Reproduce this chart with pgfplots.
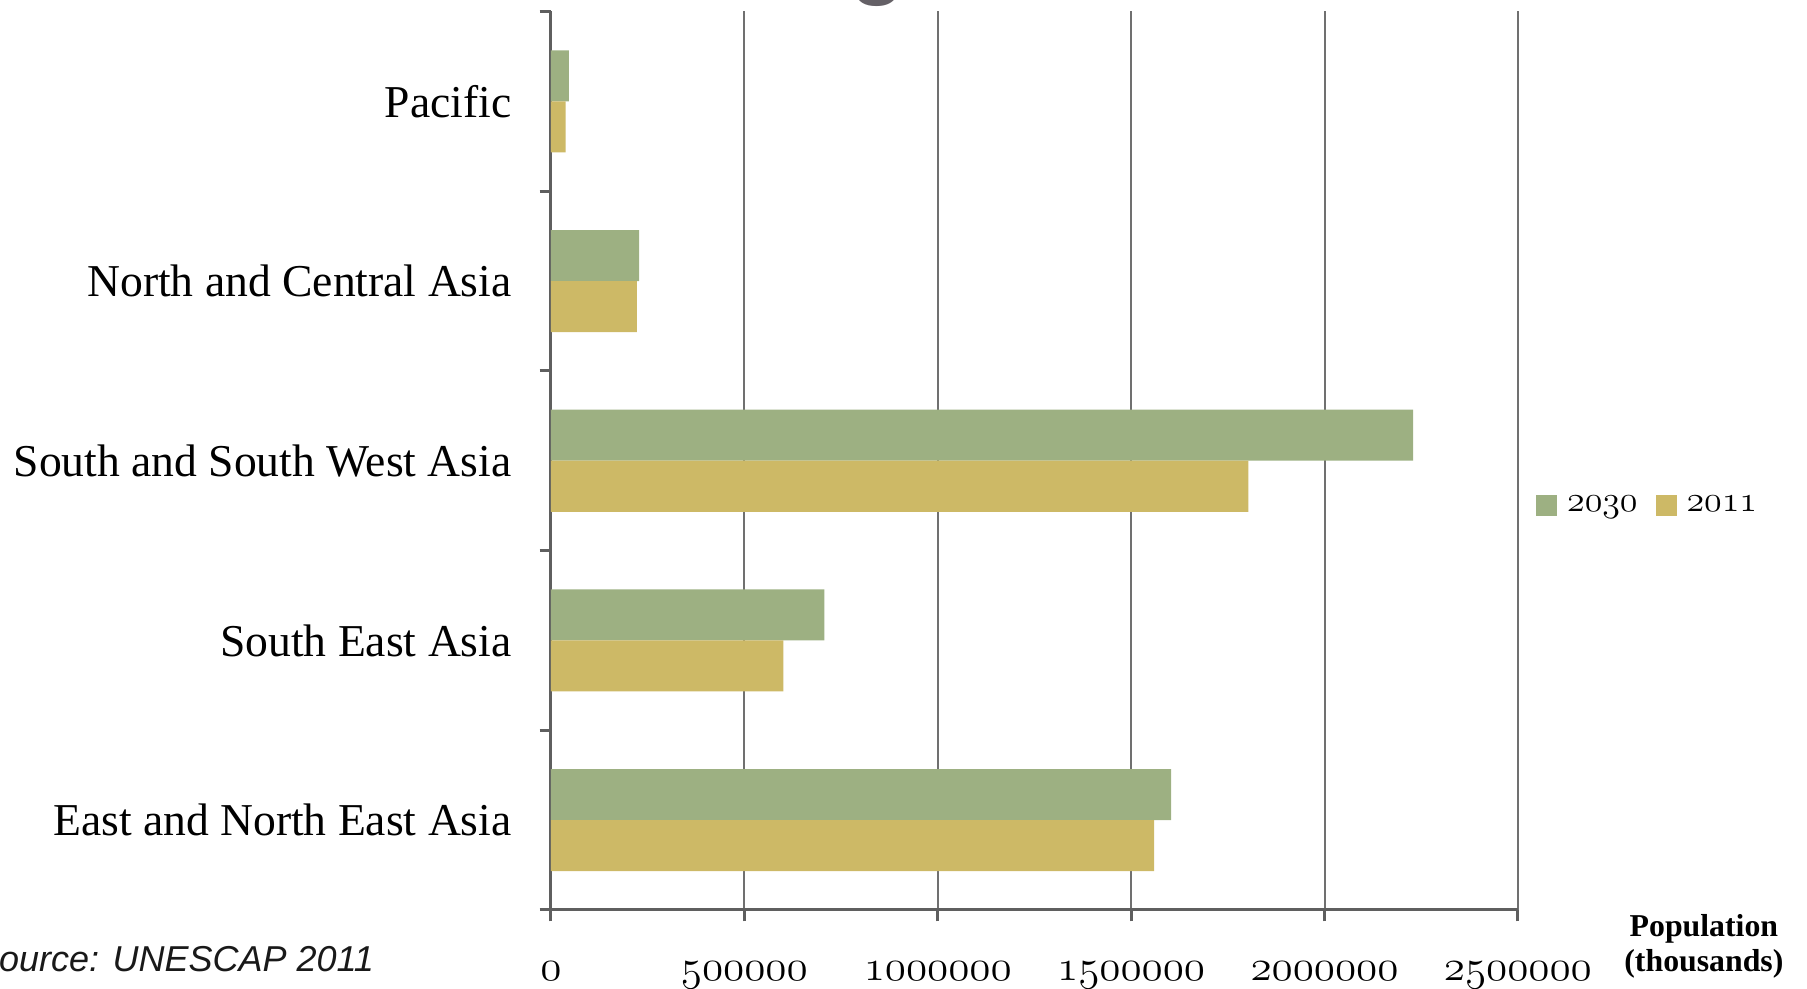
\documentclass[border=0pt]{standalone}
\usepackage{pgfplots}
\pgfplotsset{compat=1.18}
\usepackage{fontspec}
\setmainfont{Liberation Serif}
\newfontfamily\srcfont{Liberation Sans}
\newcommand\osf[1]{{\fontencoding{OML}\fontfamily{cmm}\fontseries{m}\fontshape{it}\selectfont #1}}
\definecolor{cgreen}{RGB}{157,176,130}
\definecolor{cgold}{RGB}{205,185,102}
\definecolor{gridgray}{RGB}{112,112,112}
\definecolor{axgray}{RGB}{95,95,95}
\definecolor{blobgray}{RGB}{100,96,102}
\begin{document}
\begin{tikzpicture}
\useasboundingbox (-183.67pt,-26.33pt) rectangle (418.67pt,303.33pt);
\clip (-183.67pt,-26.33pt) rectangle (418.67pt,303.33pt);
\begin{axis}[
  at={(0,0)}, anchor=south west,
  scale only axis, width=322.33pt, height=299.5pt,
  xbar, bar width=0.284,
  xmin=0, xmax=2500000, ymin=-0.5, ymax=4.5,
  axis lines=left,
  axis line style={draw=axgray, line width=1pt, -},
  xtick={0,500000,1000000,1500000,2000000,2500000},
  scaled x ticks=false,
  xticklabels={\osf{0},\osf{500000},\osf{1000000},\osf{1500000},\osf{2000000},\osf{2500000}},
  ytick={0,1,2,3,4},
  yticklabels={East and North East Asia, South East Asia, South and South West Asia, North and Central Asia, Pacific},
  minor ytick={-0.5,0.5,1.5,2.5,3.5,4.5},
  major y tick style={draw=none},
  minor y tick style={draw=axgray, line width=1pt},
  x tick style={draw=axgray, line width=1pt},
  tick align=outside, major tick length=3.8pt, minor tick length=3.8pt,
  xmajorgrids,
  major grid style={draw=gridgray, line width=0.7pt},
  y tick label style={font=\fontsize{15.2}{18}\selectfont, text=black, xshift=-5.8pt},
  x tick label style={font=\fontsize{15}{17}\selectfont, text=black, yshift=-10pt},
  xlabel={Population\\(thousands)},
  xlabel style={at={(axis description cs:1.1923,0)}, anchor=center, yshift=-12.1pt, align=center, font=\bfseries\fontsize{10.6}{11.6}\selectfont},
  legend style={at={(axis description cs:1.009,0.450)}, anchor=west, draw=none, fill=none,
    legend columns=2, font=\fontsize{13}{15}\selectfont, column sep=1.3pt,
    /tikz/every even column/.append style={column sep=4pt}},
  legend image code/.code={\fill[#1] (0pt,-3.5pt) rectangle (7pt,3.5pt);},
]
\addplot[fill=cgreen, draw=none, bar shift=0.142] coordinates {(1603000,0) (707000,1) (2229000,2) (228000,3) (46500,4)};
\addplot[fill=cgold, draw=none, bar shift=-0.142] coordinates {(1559000,0) (601000,1) (1803000,2) (222000,3) (38000,4)};
\legend{\osf{2030},\osf{2011}}
\end{axis}
\node[anchor=base east, inner sep=0pt, font=\srcfont\itshape\fontsize{12}{14}\selectfont, text=black!90] at (-58.8pt,-20.4pt) {Source: UNESCAP 2011};
\node[anchor=base, inner sep=0pt, font=\srcfont\bfseries\fontsize{30}{36}\selectfont, text=blobgray] at (109pt,307.6pt) {g};
\end{tikzpicture}
\end{document}
